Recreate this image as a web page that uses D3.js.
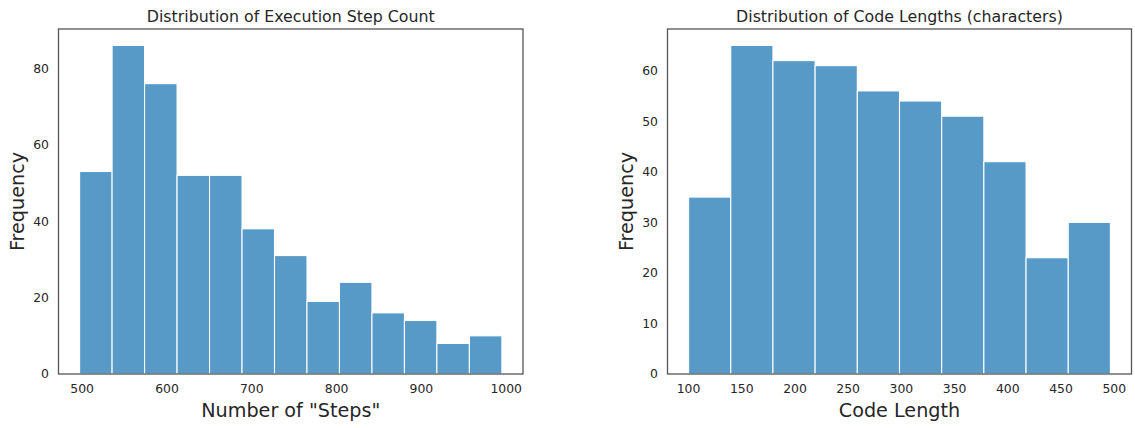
<!DOCTYPE html>
<html>
<head>
<meta charset="utf-8">
<script src="https://cdn.jsdelivr.net/npm/d3@7"></script>
<style>
  html, body { margin: 0; padding: 0; background: #fff; }
  svg { display: block; }
  text { font-family: "DejaVu Sans", sans-serif; fill: #262626; }
</style>
</head>
<body>
<svg id="chart" width="1135" height="428"></svg>
<script>
// ---- Data ----
// Left: execution step counts histogram
const stepBinStart = 497.6;
const stepBinWidth = 38.3;
const stepCounts = [53, 86, 76, 52, 52, 38, 31, 19, 24, 16, 14, 8, 10];
const stepTicksX = [500, 600, 700, 800, 900, 1000];
const stepTicksY = [0, 20, 40, 60, 80];

// Right: code length histogram
const codeBinStart = 100.5;
const codeBinWidth = 39.64;
const codeCounts = [35, 65, 62, 61, 56, 54, 51, 42, 23, 30];
const codeTicksX = [100, 150, 200, 250, 300, 350, 400, 450, 500];
const codeTicksY = [0, 10, 20, 30, 40, 50, 60];

const titles = ["Distribution of Execution Step Count", "Distribution of Code Lengths (characters)"];
const xLabels = ['Number of "Steps"', "Code Length"];
const yLabel = "Frequency";

// ---- Layout ----
const svg = d3.select("#chart");
const plotTop = 29, plotBottom = 374;
const panels = [
  { x0: 58.5, x1: 523, start: stepBinStart, width: stepBinWidth, counts: stepCounts, tx: stepTicksX, ty: stepTicksY, title: titles[0], xl: xLabels[0] },
  { x0: 667.5, x1: 1131.5, start: codeBinStart, width: codeBinWidth, counts: codeCounts, tx: codeTicksX, ty: codeTicksY, title: titles[1], xl: xLabels[1] }
];

panels.forEach(p => {
  const bins = p.counts.map((c, i) => ({ x0: p.start + i * p.width, x1: p.start + (i + 1) * p.width, c }));
  const lo = bins[0].x0, hi = bins[bins.length - 1].x1;
  const m = 0.05 * (hi - lo);
  const x = d3.scaleLinear().domain([lo - m, hi + m]).range([p.x0, p.x1]);
  const ymax = d3.max(p.counts) * 1.05;
  const y = d3.scaleLinear().domain([0, ymax]).range([plotBottom, plotTop]);

  const g = svg.append("g");

  // bars
  g.selectAll("rect.bar").data(bins).join("rect")
    .attr("class", "bar")
    .attr("x", d => x(d.x0))
    .attr("width", d => x(d.x1) - x(d.x0))
    .attr("y", d => y(d.c))
    .attr("height", d => y(0) - y(d.c))
    .attr("fill", "#5799c7")
    .attr("stroke", "#ffffff")
    .attr("stroke-width", 1.1);

  // x axis
  const xa = g.append("g").attr("transform", `translate(0,${plotBottom})`)
    .call(d3.axisBottom(x).tickValues(p.tx).tickSize(0).tickPadding(10).tickFormat(d3.format("d")));
  xa.select(".domain").remove();
  xa.selectAll("text").style("font-size", "12.4px").style("fill", "#262626")
    .style("font-family", '"DejaVu Sans", sans-serif');

  // y axis
  const ya = g.append("g").attr("transform", `translate(${p.x0},0)`)
    .call(d3.axisLeft(y).tickValues(p.ty).tickSize(0).tickPadding(9.5).tickFormat(d3.format("d")));
  ya.select(".domain").remove();
  ya.selectAll("text").style("font-size", "12.4px").style("fill", "#262626")
    .style("font-family", '"DejaVu Sans", sans-serif');

  // frame
  g.append("rect")
    .attr("x", p.x0).attr("y", plotTop)
    .attr("width", p.x1 - p.x0).attr("height", plotBottom - plotTop)
    .attr("fill", "none").attr("stroke", "#555").attr("stroke-width", 1.3);

  // title
  g.append("text")
    .attr("x", (p.x0 + p.x1) / 2).attr("y", 21.5)
    .attr("text-anchor", "middle")
    .style("font-size", "15.8px")
    .text(p.title);

  // x label
  g.append("text")
    .attr("x", (p.x0 + p.x1) / 2).attr("y", 416.7)
    .attr("text-anchor", "middle")
    .style("font-size", "19.2px")
    .text(p.xl);

  // y label
  g.append("text")
    .attr("transform", `translate(${p.x0 - 35},${(plotTop + plotBottom) / 2}) rotate(-90)`)
    .attr("text-anchor", "middle")
    .style("font-size", "19.2px")
    .text(yLabel);
});
</script>
</body>
</html>
